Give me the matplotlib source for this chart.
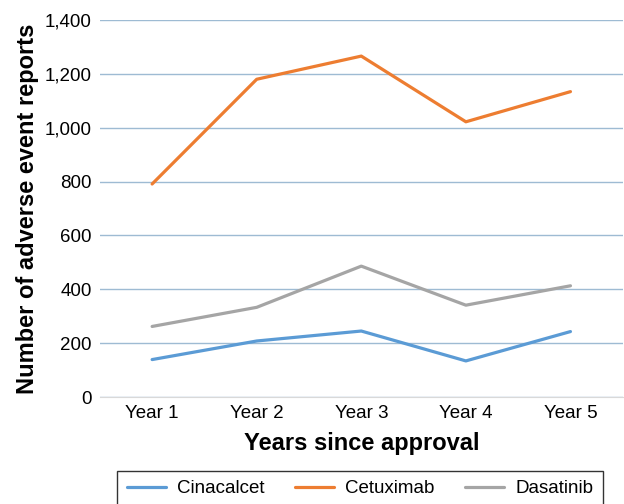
import matplotlib.pyplot as plt
from matplotlib.ticker import FuncFormatter

plt.rcParams['font.family'] = ['Liberation Sans', 'DejaVu Sans']

years = ['Year 1', 'Year 2', 'Year 3', 'Year 4', 'Year 5']
cinacalcet = [139, 208, 245, 134, 243]
cetuximab = [791, 1180, 1266, 1022, 1134]
dasatinib = [262, 333, 486, 341, 413]

fig = plt.figure(figsize=(6.24, 5.04), dpi=100)
ax = fig.add_axes([0.160, 0.2123, 0.838, 0.748])

x = range(len(years))
ax.plot(x, cinacalcet, color='#5B9BD5', lw=2.3, label='Cinacalcet', solid_capstyle='round')
ax.plot(x, cetuximab, color='#ED7D31', lw=2.3, label='Cetuximab', solid_capstyle='round')
ax.plot(x, dasatinib, color='#A5A5A5', lw=2.3, label='Dasatinib', solid_capstyle='round')

ax.set_xlim(-0.5, 4.5)
ax.set_ylim(0, 1400)
ax.set_yticks(range(0, 1401, 200))
ax.yaxis.set_major_formatter(FuncFormatter(lambda v, p: f'{int(v):,}'))
ax.set_xticks(list(x))
ax.set_xticklabels(years)
ax.grid(axis='y', color='#9EBBD3', lw=1.0)
ax.set_axisbelow(True)
for s in ['top', 'right', 'left']:
    ax.spines[s].set_visible(False)
ax.spines['bottom'].set_color('#D9D9D9')
ax.tick_params(axis='both', length=0, labelsize=13.5, pad=6)

ax.set_xlabel('Years since approval', fontsize=17, fontweight='bold', labelpad=7)
ax.set_ylabel('Number of adverse event reports', fontsize=17, fontweight='bold', labelpad=4)

fig.legend(loc='upper center', bbox_to_anchor=(0.577, 0.066), ncol=3,
           fontsize=13.5, frameon=True, fancybox=False, edgecolor='black',
           handlelength=2.1, handletextpad=0.6, columnspacing=1.6, borderpad=0.5,
           borderaxespad=0)

fig.savefig('out.png', dpi=100)
